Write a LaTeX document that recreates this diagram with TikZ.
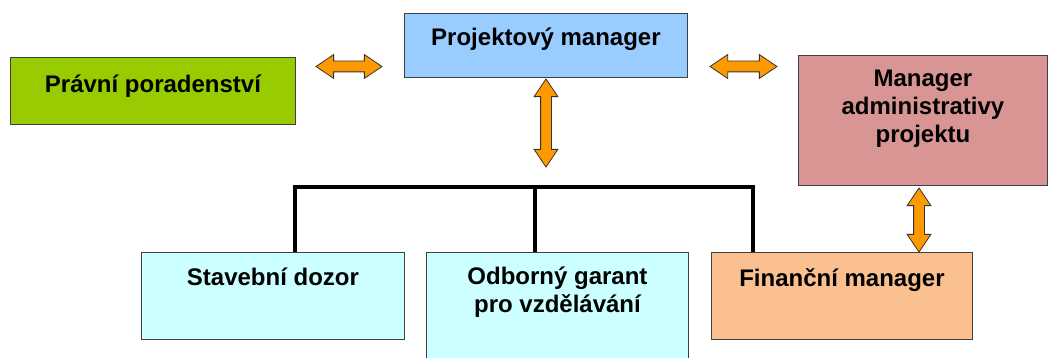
\documentclass[tikz,border=0pt]{standalone}
\usepackage{fontspec}
\setmainfont{Liberation Sans}
\usetikzlibrary{positioning,shapes.arrows}
\definecolor{pravgreen}{HTML}{99CC00}
\definecolor{projblue}{HTML}{99CCFF}
\definecolor{admrose}{HTML}{D99594}
\definecolor{lightcyan}{HTML}{CCFFFF}
\definecolor{finpeach}{HTML}{FAC090}
\definecolor{arroworange}{HTML}{FF9900}
\definecolor{boxline}{HTML}{404040}

\begin{document}
\begin{tikzpicture}[x=1pt, y=-1pt,
  box/.style={draw=boxline, line width=0.9pt, anchor=north west, inner sep=0pt},
  lbl/.style={inner sep=0pt, align=center, font=\fontsize{24}{28}\selectfont\bfseries},
  dblarr/.style={double arrow, draw=black!80, fill=arroworange, line width=0.8pt,
    double arrow head extend=6.5pt, double arrow tip angle=68,
    inner xsep=0pt, inner ysep=5pt, minimum width=0pt},
  bar/.style={line width=4pt, line join=miter}]
  \useasboundingbox (0,0) rectangle (1049,358);

  \node[box, fill=pravgreen, minimum width=285pt, minimum height=67pt] (prav) at (10,57) {};
  \node[box, fill=projblue, minimum width=283pt, minimum height=64pt] (proj) at (404,13) {};
  \node[box, fill=admrose, minimum width=249pt, minimum height=130pt] (mgr) at (798,55) {};
  \node[box, fill=lightcyan, minimum width=263pt, minimum height=87pt] (stav) at (141,252) {};
  \node[box, fill=lightcyan, minimum width=262pt, minimum height=120pt] (odb) at (426,252) {};
  \node[box, fill=finpeach, minimum width=261pt, minimum height=87pt] (fin) at (711,252) {};

  \node[lbl, below=18pt of prav.north] (pravtxt) {Právní poradenství};
  \node[lbl, below=15pt of proj.north] (projtxt) {Projektový manager};
  \node[lbl, below=15pt of mgr.north] (mgrtxt) {Manager\\administrativy\\projektu};
  \node[lbl, below=16pt of stav.north] (stavtxt) {Stavební dozor};
  \node[lbl, below=15pt of odb.north] (odbtxt) {Odborný garant\\pro vzdělávání};
  \node[lbl, below=16pt of fin.north] (fintxt) {Finanční manager};

  \node[dblarr, minimum height=66pt] (arrl) at (349,66.5) {};
  \node[dblarr, minimum height=67pt] (arrr) at (743.5,66.5) {};
  \node[dblarr, minimum height=88pt, rotate=90] (arrd) at (546,123) {};
  \node[dblarr, minimum height=64pt, rotate=90] (arrf) at (919,220) {};

  \coordinate (barl) at (295,187);
  \coordinate (barm) at (535,187);
  \coordinate (barr) at (753,187);
  \draw[bar] (stav.north -| barl) -- (barl) -- (barr) -- (fin.north -| barr);
  \draw[bar] (odb.north -| barm) -- (barm);
\end{tikzpicture}
\end{document}
